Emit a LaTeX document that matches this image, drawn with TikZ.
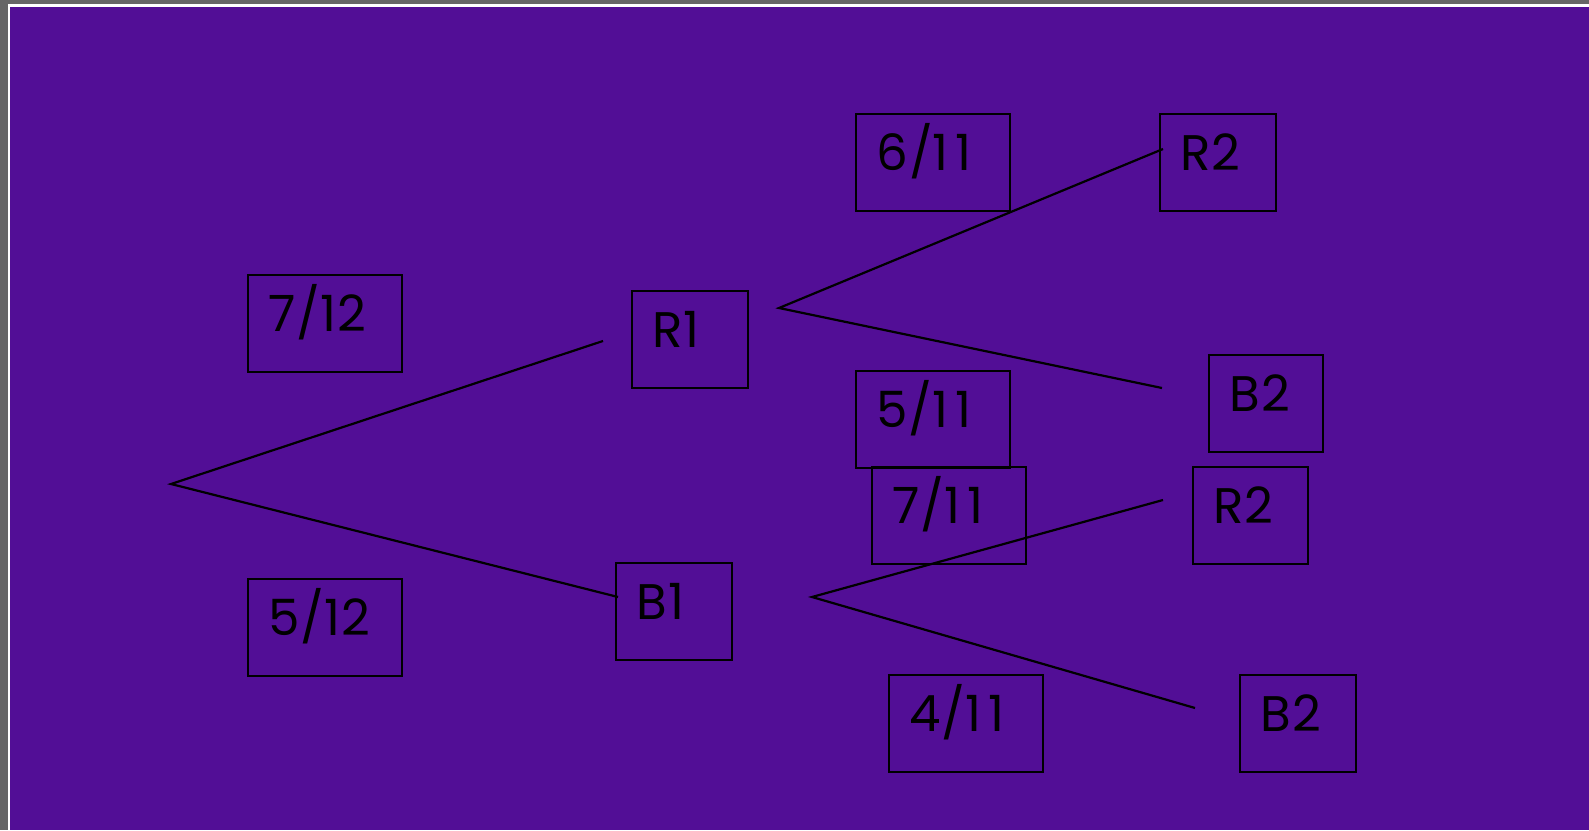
\documentclass[tikz,border=0pt]{standalone}
\usepackage{fontspec}
\setmainfont{Poppins}[LetterSpace=2]
\definecolor{slidebg}{HTML}{520E96}
\definecolor{framegrey}{HTML}{666666}
% the digit pair "11" set a little more openly
\newcommand{\eleven}{1\kern3.5pt 1}
\begin{document}
\begin{tikzpicture}[x=0.5pt,y=-0.5pt,
  box/.style={draw=black,line width=1.1pt,rectangle,inner sep=0pt,anchor=north west},
  lbl/.style={anchor=base west,inner sep=0pt,text=black,font=\fontsize{25}{30}\selectfont},
  branch/.style={draw=black,line width=1.1pt}]
  % frame and slide background
  \fill[framegrey] (0,0) rectangle (1589,830);
  \fill[white] (8,4) rectangle (1589,830);
  \fill[slidebg] (10,7) rectangle (1589,830);
  \useasboundingbox (0,0) rectangle (1589,830);

  % boxes: name, position (top-left), width, text
  \foreach \n/\x/\y/\w/\t in {
      p611/855/113/154/6\slash\eleven,
      r2a/1159/113/116/R2,
      p712/247/274/154/7\slash 12,
      r1/631/290/116/R1,
      b2a/1208/354/114/B2,
      p511/855/370/154/5\slash\eleven,
      p711/871/466/154/7\slash\eleven,
      r2b/1192/466/115/R2,
      b1/615/562/116/B1,
      p512/247/578/154/5\slash 12,
      p411/888/674/154/4\slash\eleven,
      b2b/1239/674/116/B2}{
    \node[box,minimum width=\w*0.5pt,minimum height=48.5pt] (\n) at (\x,\y) {};
    \node[lbl] (\n-t) at ([xshift=10.5pt,yshift=-28.5pt]\n.north west) {\t};
  }

  % branch points and free ends
  \coordinate (root) at (171,484);
  \coordinate (r1end) at (603,341);
  \coordinate (b1end) at (618,597);
  \coordinate (forkR) at (779,308);
  \coordinate (rr2end) at (1163,149);
  \coordinate (rb2end) at (1162,388);
  \coordinate (forkB) at (812,597);
  \coordinate (br2end) at (1163,500);
  \coordinate (bb2end) at (1195,708);

  \draw[branch] (r1end) -- (root) -- (b1end);
  \draw[branch] (rr2end) -- (forkR) -- (rb2end);
  \draw[branch] (br2end) -- (forkB) -- (bb2end);
\end{tikzpicture}
\end{document}
